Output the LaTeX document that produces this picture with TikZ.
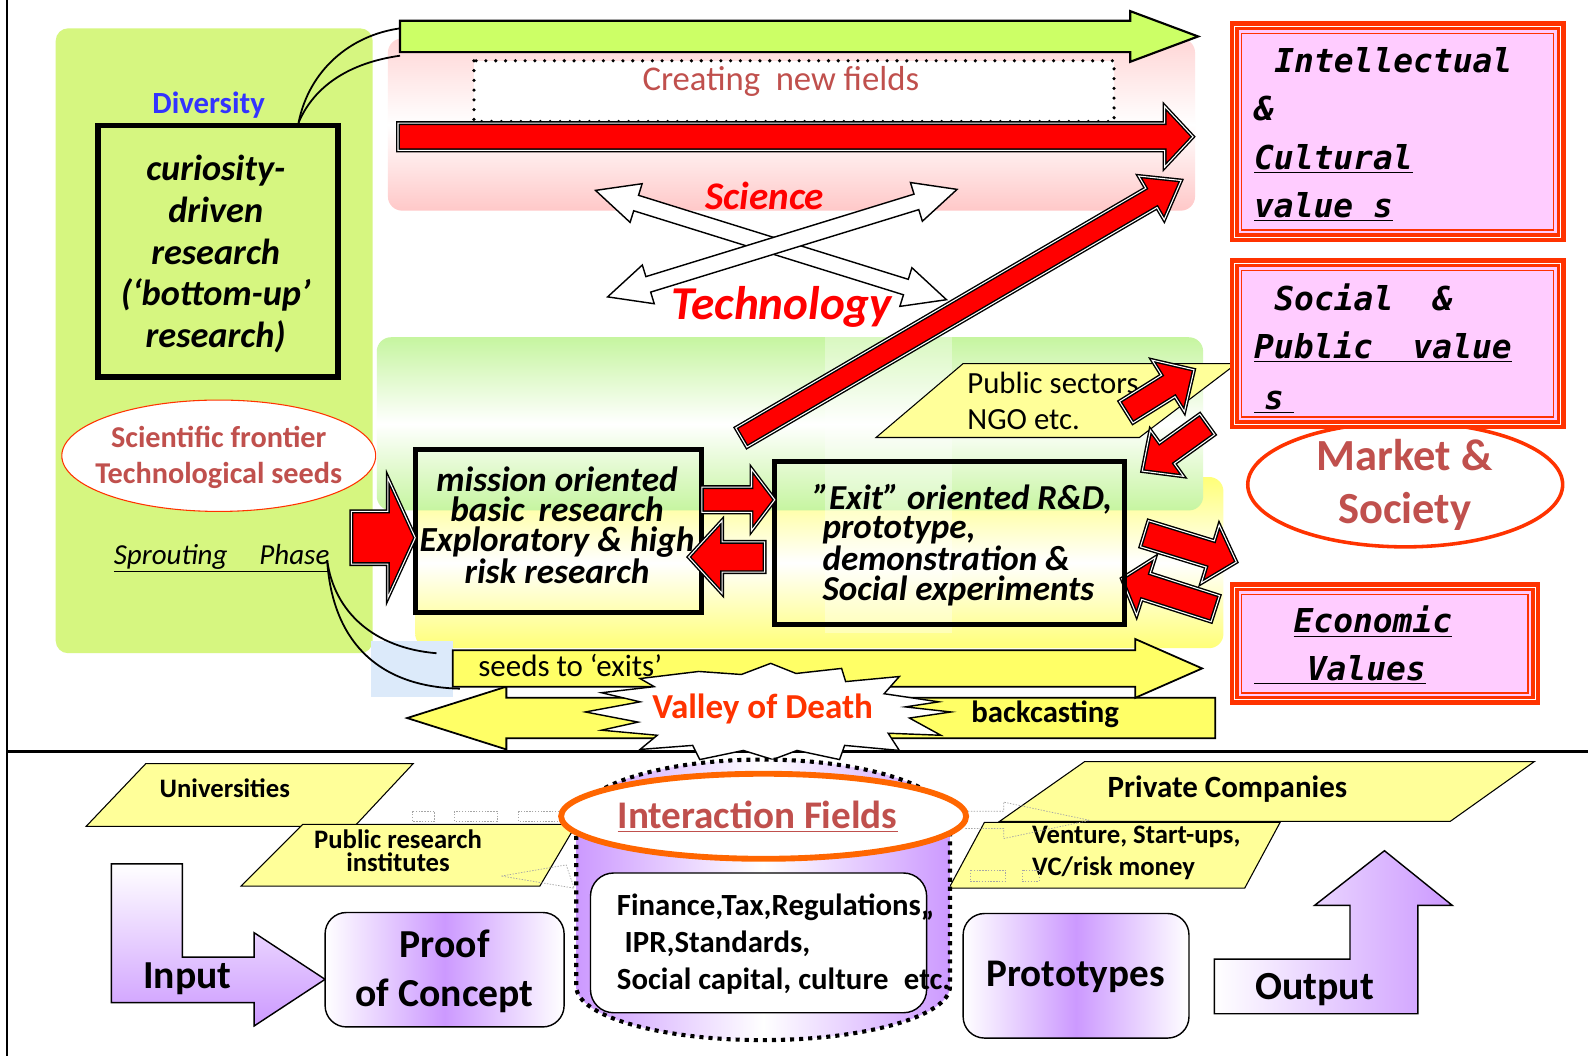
\documentclass[tikz,border=0pt]{standalone}
\usepackage{fontspec}
\setmainfont{Carlito}
\newfontfamily\gothmono{DejaVu Sans Mono}
\usetikzlibrary{shapes.geometric}

\definecolor{panelgreen}{RGB}{214,246,128}
\definecolor{arrowgreen}{RGB}{204,255,102}
\definecolor{pinkband}{RGB}{255,200,200}
\definecolor{bandgreen}{RGB}{198,245,160}
\definecolor{bandyellow}{RGB}{255,255,120}
\definecolor{arrowyellow}{RGB}{255,255,102}
\definecolor{tagyellow}{RGB}{255,255,153}
\definecolor{valuepink}{RGB}{255,204,255}
\definecolor{valuered}{RGB}{255,51,0}
\definecolor{brick}{RGB}{192,80,77}
\definecolor{lilac}{RGB}{204,153,255}
\definecolor{divblue}{RGB}{51,51,255}
\definecolor{fieldorange}{RGB}{255,102,0}
\definecolor{paleblue}{RGB}{220,234,250}

\newcommand\fsz[2]{\fontsize{#1}{#2}\selectfont}

% block arrow: style, tail x, tail y, angle, length, shaft half-width, head half-width, head length
\newcommand\blockarrow[8]{%
  \begin{scope}[shift={(#2,#3)},rotate=#4]
    \draw[#1] (0,-#6) -- ({#5-#8},-#6) -- ({#5-#8},-#7) -- (#5,0)
      -- ({#5-#8},#7) -- ({#5-#8},#6) -- (0,#6) -- cycle;
  \end{scope}}
% double-headed block arrow, same arguments
\newcommand\twowayarrow[8]{%
  \begin{scope}[shift={(#2,#3)},rotate=#4]
    \draw[#1] (0,0) -- (#8,-#7) -- (#8,-#6) -- ({#5-#8},-#6) -- ({#5-#8},-#7)
      -- (#5,0) -- ({#5-#8},#7) -- ({#5-#8},#6) -- (#8,#6) -- (#8,#7) -- cycle;
  \end{scope}}
% pink value panel with a red multi-line frame
\newcommand\valueframe[4]{%
  \fill[valuepink] (#1,#2) rectangle (#3,#4);
  \draw[valuered, line width=5pt] ({#1+4.5},{#2+4.5}) rectangle ({#3-4.5},{#4-4.5});
  \draw[white, line width=0.5pt] ({#1+5},{#2+5}) rectangle ({#3-5},{#4-5});
  \draw[valuered, line width=0.9pt] ({#1+12},{#2+12}) rectangle ({#3-12},{#4-12});}

\begin{document}
\begin{tikzpicture}[x=0.02cm, y=-0.02cm, line join=miter,
  redarrow/.style={fill=red, draw=black, line width=0.8pt, double=white, double distance=0.6pt},
  whitearrow/.style={fill=white, draw=black, line width=0.8pt},
  yellowarrow/.style={fill=arrowyellow, draw=black, line width=1pt},
  tag/.style={fill=tagyellow, draw=black, line width=0.6pt},
  valtext/.style={font=\gothmono\bfseries\itshape\fsz{18.5}{22}, anchor=base west, inner sep=0pt},
  dotrule/.style={draw=gray!70, line width=0.4pt, dash pattern=on 0.8pt off 0.8pt}]
\useasboundingbox (0,0) rectangle (1568,1043);
\fill[white] (0,0) rectangle (1568,1043);

% frame lines
\draw[line width=1.2pt] (7,0) -- (7,1043);
\draw[line width=1.2pt] (7,742) -- (1568,742);

% ---------- left panel ----------
\fill[panelgreen, rounded corners=7pt] (55,28) rectangle (368,645);
\node[text=divblue, font=\fsz{17.3}{20}\bfseries] (diversity) at (206,104) {Diversity};
\node[draw=black, line width=3.2pt, fill=panelgreen, minimum width=4.74cm, minimum height=4.96cm] (curbox) at (215.5,248) {};
\node[font=\fsz{20.4}{23.4}\bfseries\itshape, align=center] (curtext) at (213,251)
  {curiosity-\\driven\\research\\(‘bottom-up’\\research)};
\node[ellipse, draw=valuered, line width=0.6pt, fill=white, minimum width=6.2cm, minimum height=2.2cm] (frontier) at (216,450) {};
\node[text=brick, font=\fsz{17}{20.4}\bfseries, align=center] (frontiertext) at (216,452)
  {Scientific frontier\\Technological seeds};
\node[font=\fsz{16.3}{18}\itshape, anchor=base west, inner sep=0pt] (sprout) at (112,557)
  {\underline{Sprouting\hspace{1.1em}Phase}};

% ---------- science band ----------
\shade[top color=pinkband!75, bottom color=pinkband, middle color=white, rounded corners=8pt] (383,38) rectangle (1180,208);
\blockarrow{fill=arrowgreen, draw=black, line width=1.2pt}{395}{36}{0}{788}{15.5}{25}{67}
\coordinate (greentail1) at (395,28);
\coordinate (greentail2) at (395,55);
\draw[line width=1pt] (curbox.north east) ++(-42,0) coordinate (curtop)
  .. controls (305,70) and (345,35) .. (greentail1);
\draw[line width=1pt] (curtop) .. controls (310,85) and (345,62) .. (greentail2);
\draw[line width=2pt, dash pattern=on 0pt off 5.5pt, line cap=round, fill=white] (468,60) rectangle (1100,120);
\node[text=brick, font=\fsz{19.5}{21}] (newfields) at (771,80) {Creating\hspace{0.45em}new fields};
\blockarrow{redarrow}{393}{135}{0}{785}{13.5}{30}{28}

% science / technology exchange
\twowayarrow{whitearrow}{588}{188}{-17.3}{363}{8}{20}{42}
\twowayarrow{whitearrow}{945}{187}{197.1}{361}{8}{20}{42}
\node[text=red, font=\fsz{22}{24}\bfseries\itshape] (science) at (755,193) {Science};
\node[text=red, font=\fsz{26.5}{28}\bfseries\itshape] (technology) at (772,303) {Technology};

% ---------- middle band ----------
\shade[top color=bandyellow, bottom color=bandyellow, middle color=white, rounded corners=8pt] (410,471) rectangle (1208,640);
\shade[top color=bandgreen, bottom color=bandgreen, middle color=white, rounded corners=8pt] (372,333) rectangle (1188,504);
\fill[white, opacity=0.35] (815,333) rectangle (940,625);

\blockarrow{redarrow}{732}{432}{30.3}{503}{11}{25}{34}

\draw[tag] (951,359) -- (1221,359) -- (1125,432) -- (865,432) -- cycle;
\node[font=\fsz{17.3}{20.4}, align=left, anchor=west] (public) at (949,396) {Public sectors\\NGO etc.};

\blockarrow{redarrow}{1112}{407}{32}{79}{12.5}{30}{30}
\blockarrow{redarrow}{1192}{419}{215.7}{79}{12.5}{28}{30}
\blockarrow{redarrow}{1130}{527}{-17.1}{95}{13.5}{30}{27}
\blockarrow{redarrow}{1200}{601}{162.2}{97}{13.5}{30}{25}

% research boxes
\draw[line width=2.8pt] (410,444) rectangle (693,605);
\node[font=\fsz{19.8}{16.8}\bfseries\itshape, align=center] (mission) at (550,519)
  {mission oriented\\basic\hspace{0.4em}research\\Exploratory \& high\\risk research};
\draw[line width=2.8pt] (765,456) rectangle (1110,617);
\node[font=\fsz{19.7}{16.6}\bfseries\itshape, align=left, anchor=west] (exit) at (806,538)
  {\hspace*{-0.25em}”Exit” oriented R\&D,\\prototype,\\demonstration \&\\Social experiments};

\blockarrow{redarrow}{347}{531}{0}{63}{26}{59}{27}
\blockarrow{redarrow}{693}{493.5}{0}{72}{12.5}{30.5}{23}
\blockarrow{redarrow}{755}{550}{180}{75}{15}{36}{33}

% ---------- valley of death ----------
\fill[paleblue] (366,633) rectangle (447,688);
\blockarrow{yellowarrow}{1200}{709}{180}{798}{20}{31}{98}
\blockarrow{yellowarrow}{447}{660}{0}{740}{18}{29}{66}
\coordinate (seedend1) at (431,645);
\coordinate (seedend2) at (454,680);
\draw[line width=1pt] (323,553) coordinate (sproutend) .. controls (330,605) and (370,640) .. (seedend1);
\draw[line width=1pt] (sproutend) .. controls (328,630) and (370,678) .. (seedend2);
\node[font=\fsz{17.4}{18}] (seeds) at (563,657) {seeds to ‘exits’};
\node[font=\fsz{17.3}{18}\bfseries] (backcast) at (1032,705) {backcasting};

\draw[fill=white, line width=0.8pt] (578,703) -- (632,693) -- (594,684) -- (646,678) -- (632,670)
  -- (690,663) -- (732,666) -- (761,655) -- (786,665) -- (831,660) -- (835,673) -- (888,668)
  -- (873,685) -- (927,693) -- (894,698) -- (939,703) -- (898,709) -- (929,726) -- (877,724)
  -- (888,741) -- (834,736) -- (829,750) -- (787,741) -- (763,750) -- (734,741) -- (691,750)
  -- (684,736) -- (632,740) -- (649,726) -- (594,721) -- (630,713) -- cycle;
\node[text=valuered, font=\fsz{19.7}{20}\bfseries] (valley) at (753,700) {Valley of Death};

% ---------- value panels ----------
\node[ellipse, draw=valuered, line width=2pt, fill=white, minimum width=6.22cm, minimum height=2.46cm] (market) at (1387.5,478.5) {};
\node[text=brick, font=\fsz{25}{29.5}\bfseries, align=center] (markettext) at (1387,479) {Market \&\\Society};

\valueframe{1214}{21}{1546}{239}
\node[valtext] (ic1) at (1258,72) {Intellectual};
\node[valtext] (ic2) at (1238,119) {\&};
\node[valtext] (ic3) at (1238,167) {\underline{Cultural}};
\node[valtext] (ic4) at (1238,215) {\underline{value s}};

\valueframe{1214}{255}{1546}{424}
\node[valtext] (sp1) at (1258,307) {Social\hspace*{1.204em}\&};
\node[valtext] (sp2) at (1238,354) {\underline{Public\hspace*{1.204em}value}};
\node[valtext] (sp3) at (1238,404) {\underline{\hspace*{0.3em}s\hspace*{0.3em}}};

\valueframe{1214}{575}{1521}{696}
\node[valtext] (ev1) at (1277,625) {\underline{Economic}};
\node[valtext] (ev2) at (1238,672) {\underline{\hspace*{1.6em}Values}};

% ---------- bottom: actors ----------
\draw[tag] (144,754) -- (408,754) -- (350,816) -- (85,816) -- cycle;
\node[font=\fsz{15}{16}\bfseries] (univ) at (222,778) {Universities};
\draw[tag] (299,814) -- (569,814) -- (533,875) -- (238,875) -- cycle;
\node[font=\fsz{15}{13}\bfseries, align=center] (pri) at (393,840) {Public research\\institutes};

\draw[dotrule] (407,801) rectangle (429,811);
\draw[dotrule] (449,801) rectangle (491,811);
\draw[dotrule] (512,801) rectangle (567,811);
\draw[dotrule] (495,865) -- (559,854) -- (567,877) -- cycle;

\draw[tag] (972,812) -- (1264,812) -- (1229,877) -- (937,877) -- cycle;
\draw[tag] (1071,752) -- (1515,752) -- (1432,811) -- (987,811) -- cycle;
\node[font=\fsz{17.4}{20}\bfseries] (private) at (1212,779) {Private Companies};
\node[font=\fsz{15}{17.6}\bfseries, align=left, anchor=west] (venture) at (1013,842) {Venture, Start-ups,\\VC/risk money};
\draw[dotrule] (953,801) -- (991,801) -- (991,792) -- (1076,810) -- (991,828) -- (991,818) -- (953,818);
\draw[dotrule] (958,859) rectangle (993,870);
\draw[dotrule] (1009,859) rectangle (1026,870);

% ---------- interaction fields ----------
\shadedraw[left color=lilac, right color=lilac, middle color=white, draw=black, line width=2.3pt, dash pattern=on 2.3pt off 2.8pt]
  (569,810) .. controls (569,777) and (651,750) .. (753,750) .. controls (855,750) and (938,777) .. (938,810)
  -- (938,974) .. controls (938,1003) and (855,1027) .. (753,1027) .. controls (651,1027) and (569,1003) .. (569,974) -- cycle;
\node[ellipse, draw=fieldorange, line width=3.3pt, fill=white, minimum width=8cm, minimum height=1.68cm] (ifield) at (754,806) {};
\node[text=brick, font=\fsz{22}{22}\bfseries] (ifieldtext) at (748,806) {\underline{Interaction Fields}};
\node[draw=black, line width=0.8pt, fill=white, rounded corners=13pt, minimum width=6.64cm, minimum height=2.76cm] (conditions) at (749,931) {};
\node[font=\fsz{17.3}{20.7}\bfseries, align=left, anchor=west] (condtext) at (603,932)
  {Finance,Tax,Regulations,,\\\hspace*{0.25em}IPR,Standards,\\Social capital, culture\hspace{0.5em}etc.};

% ---------- input / output chain ----------
\shadedraw[top color=white, bottom color=lilac, draw=black, line width=0.8pt]
  (110,853) -- (180,853) -- (180,945) -- (251,945) -- (251,921) -- (321,967) -- (251,1013) -- (251,990) -- (110,990) -- cycle;
\node[font=\fsz{22.3}{24}\bfseries] (input) at (185,966) {Input};

\shadedraw[left color=white, right color=white, middle color=lilac, draw=black, line width=0.8pt, rounded corners=12pt]
  (321,901) rectangle (557,1014);
\node[font=\fsz{22.3}{27.2}\bfseries, align=center] (proof) at (439,959) {Proof\\of Concept};

\shadedraw[left color=white, right color=white, middle color=lilac, draw=black, line width=0.8pt, rounded corners=12pt]
  (951,902) rectangle (1174,1025);
\node[font=\fsz{22}{24}\bfseries] (proto) at (1062,965) {Prototypes};

\shadedraw[left color=white, right color=lilac, draw=black, line width=0.8pt]
  (1199,947) -- (1333,947) -- (1333,894) -- (1298,894) -- (1367,840) -- (1434,894) -- (1400,894) -- (1400,1001) -- (1199,1001) -- cycle;
\node[font=\fsz{22.4}{24}\bfseries] (output) at (1298,977) {Output};
\end{tikzpicture}
\end{document}
